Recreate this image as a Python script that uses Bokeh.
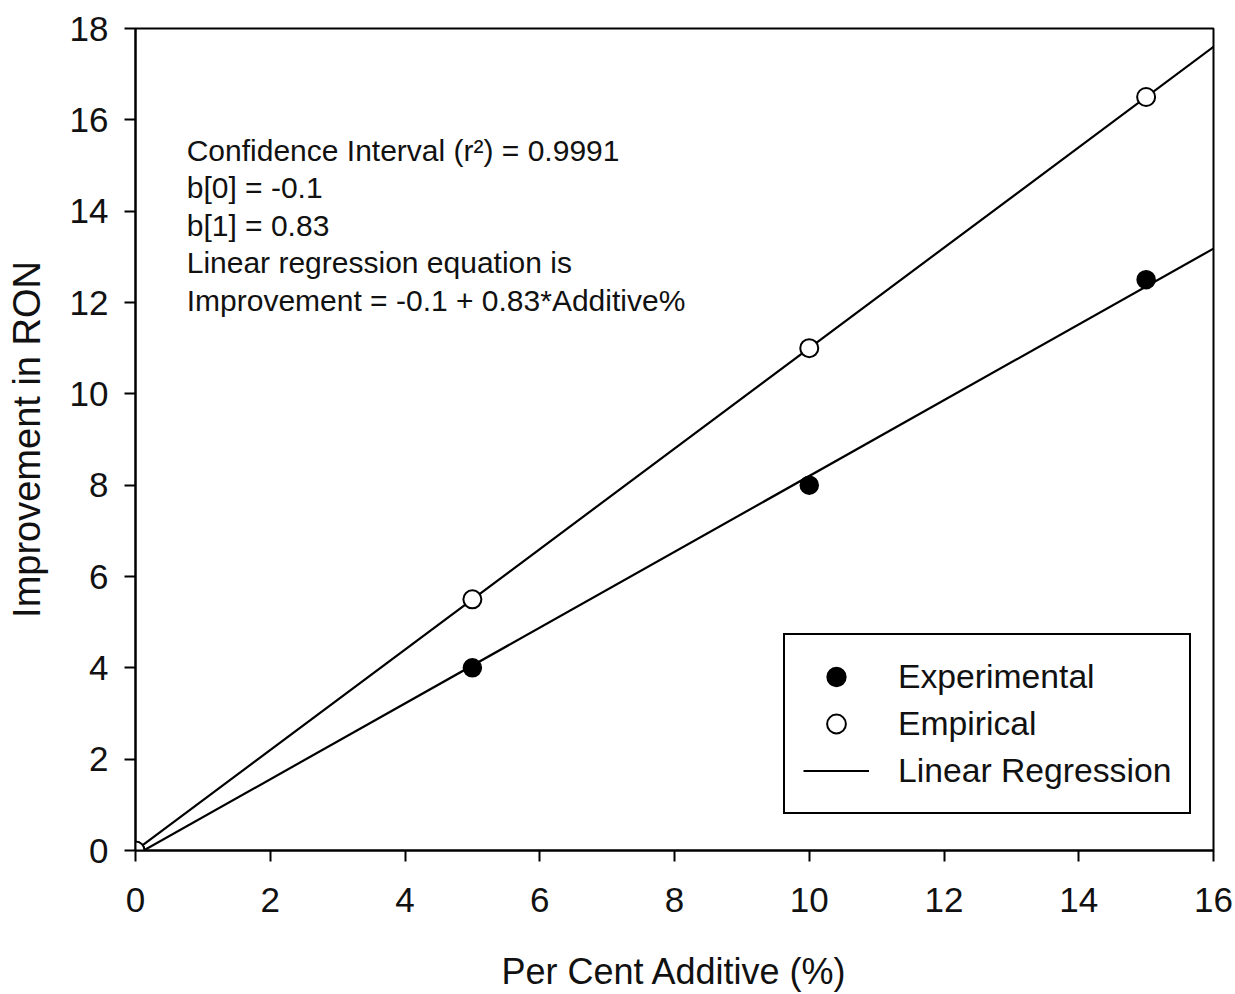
from bokeh.plotting import figure
from bokeh.models import Legend, LegendItem, Label, Range1d
from bokeh.embed import file_html
from bokeh.resources import INLINE

# ---- data ----
additive = [0, 5, 10, 15]
experimental = [0, 4, 8, 12.5]
empirical = [0, 5.5, 11, 16.5]

# regression coefficients (intercept, slope)
exp_b0, exp_b1 = -0.1, 0.83
emp_b0, emp_b1 = 0.0, 1.1
reg_x = [0, 16]

x_ticks = [0, 2, 4, 6, 8, 10, 12, 14, 16]
y_ticks = [0, 2, 4, 6, 8, 10, 12, 14, 16, 18]

annotation_lines = [
    "Confidence Interval (r\u00b2) = 0.9991",
    "b[0] = -0.1",
    "b[1] = 0.83",
    "Linear regression equation is",
    "Improvement = -0.1 + 0.83*Additive%",
]

FONT = "Liberation Sans"
TXT = "#111111"

p = figure(width=1235, height=994, output_backend="svg", toolbar_location=None,
           x_range=Range1d(0, 16), y_range=Range1d(0, 18),
           min_border_left=135, min_border_right=22, min_border_top=28,
           min_border_bottom=142, background_fill_color="white",
           border_fill_color="white")

p.xgrid.visible = False
p.ygrid.visible = False
p.outline_line_color = "black"
p.outline_line_width = 2
p.outline_line_alpha = 1

for ax in (p.xaxis[0], p.yaxis[0]):
    ax.axis_line_width = 2
    ax.axis_line_color = "black"
    ax.major_tick_line_width = 2
    ax.major_tick_line_color = "black"
    ax.major_tick_in = 0
    ax.major_tick_out = 11
    ax.minor_tick_line_color = None
    ax.major_label_text_font = FONT
    ax.major_label_text_font_size = "35px"
    ax.major_label_text_color = TXT
    ax.axis_label_text_font = FONT
    ax.axis_label_text_font_style = "normal"
    ax.axis_label_text_color = TXT

p.xaxis.ticker = x_ticks
p.yaxis.ticker = y_ticks
p.xaxis.major_label_standoff = 26
p.yaxis.major_label_standoff = 16
p.xaxis.axis_label = "Per Cent Additive (%)"
p.yaxis.axis_label = "Improvement in RON"
p.xaxis.axis_label_text_font_size = "36px"
p.yaxis.axis_label_text_font_size = "38px"
p.xaxis.axis_label_standoff = 36
p.yaxis.axis_label_standoff = 19

exp_line_y = [exp_b0 + exp_b1 * x for x in reg_x]
emp_line_y = [emp_b0 + emp_b1 * x for x in reg_x]

r_line1 = p.line(reg_x, exp_line_y, line_color="black", line_width=2.2)
r_line2 = p.line(reg_x, emp_line_y, line_color="black", line_width=2.2)
r_exp = p.scatter(additive, experimental, marker="circle", size=18,
                  fill_color="black", line_color="black", line_width=1.5)
r_emp = p.scatter(additive, empirical, marker="circle", size=18,
                  fill_color="white", line_color="black", line_width=2)

legend = Legend(items=[
    LegendItem(label="Experimental", renderers=[r_exp]),
    LegendItem(label="Empirical", renderers=[r_emp]),
    LegendItem(label="Linear Regression", renderers=[r_line1]),
], location=(648, 36))
legend.border_line_color = "black"
legend.border_line_width = 2
legend.border_line_alpha = 1
legend.background_fill_color = "white"
legend.background_fill_alpha = 1
legend.label_text_font = FONT
legend.label_text_font_size = "33.7px"
legend.label_text_color = TXT
legend.glyph_width = 66
legend.glyph_height = 47
legend.label_height = 47
legend.spacing = 0
legend.padding = 18
legend.label_standoff = 29
legend.margin = 0
p.add_layout(legend)

ann_x = 0.76
ann_y0 = 15.33
ann_step = 0.82
for i, line in enumerate(annotation_lines):
    p.add_layout(Label(x=ann_x, y=ann_y0 - i * ann_step, text=line,
                       text_font=FONT, text_font_size="30px",
                       text_color=TXT, text_baseline="alphabetic",
                       text_align="left"))

open("out.html", "w").write(file_html(p, INLINE))
